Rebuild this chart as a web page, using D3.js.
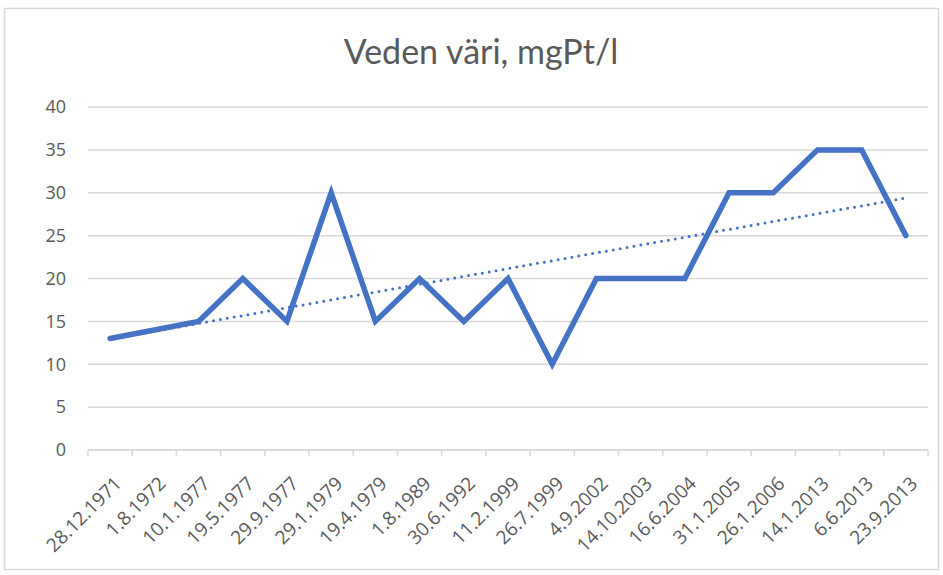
<!DOCTYPE html>
<html>
<head>
<meta charset="utf-8">
<script src="https://cdn.jsdelivr.net/npm/d3@7"></script>
<style>
  body { margin: 0; background: #fff; }
  svg text { font-family: "Open Sans", sans-serif; fill: #595959; }
</style>
</head>
<body>
<div id="chart"></div>
<script>
var dates = ["28.12.1971", "1.8.1972", "10.1.1977", "19.5.1977", "29.9.1977", "29.1.1979",
    "19.4.1979", "1.8.1989", "30.6.1992", "11.2.1999", "26.7.1999", "4.9.2002",
    "14.10.2003", "16.6.2004", "31.1.2005", "26.1.2006", "14.1.2013", "6.6.2013", "23.9.2013"]
var colour = [13, 14, 15, 20, 15, 30, 15, 20, 15, 20, 10, 20, 20, 20, 30, 30, 35, 35, 25]
var yTicks = [0, 5, 10, 15, 20, 25, 30, 35, 40]

var width = 943, height = 575
var margin = {left: 88, right: 15, top: 107, bottom: 125}

var svg = d3.select("#chart")
    .append("svg")
    .attr("width", width)
    .attr("height", height)

// chart frame
svg.append("rect")
    .attr("x", 4.5).attr("y", 8.5)
    .attr("width", 934).attr("height", 561)
    .attr("fill", "none")
    .attr("stroke", "#d9d9d9")
    .attr("stroke-width", 1.5)

svg.append("text")
    .attr("x", 481).attr("y", 64)
    .attr("text-anchor", "middle")
    .style("font-family", "Lato, sans-serif")
    .style("font-size", "34px")
    .text("Veden väri, mgPt/l")

var x = d3.scaleBand()
    .domain(dates)
    .range([margin.left, width - margin.right])

var y = d3.scaleLinear()
    .domain([0, 40])
    .range([height - margin.bottom, margin.top])

// gridlines
svg.append("g")
    .selectAll("line")
    .data(yTicks)
    .enter()
    .append("line")
    .attr("x1", margin.left)
    .attr("x2", width - margin.right)
    .attr("y1", (d) => y(d))
    .attr("y2", (d) => y(d))
    .attr("stroke", "#d9d9d9")
    .attr("stroke-width", 1.5)

var yAxis = svg.append("g")
    .attr("transform", `translate(${margin.left},0)`)
    .call(d3.axisLeft(y).tickValues(yTicks).tickSize(0).tickPadding(22))
yAxis.select(".domain").remove()
yAxis.selectAll("text")
    .style("font-family", "'Open Sans', sans-serif")
    .style("font-size", "18px")
    .attr("fill", "#595959")

// x axis with ticks at category boundaries
var xAxis = svg.append("g")
    .attr("transform", `translate(0,${y(0)})`)
xAxis.append("line")
    .attr("x1", margin.left).attr("x2", width - margin.right)
    .attr("stroke", "#d9d9d9").attr("stroke-width", 1.5)
xAxis.selectAll("line.tick")
    .data(d3.range(dates.length + 1))
    .enter()
    .append("line")
    .attr("class", "tick")
    .attr("x1", (i) => margin.left + i * x.step())
    .attr("x2", (i) => margin.left + i * x.step())
    .attr("y1", 0).attr("y2", 6)
    .attr("stroke", "#d9d9d9").attr("stroke-width", 1.5)
xAxis.selectAll("text")
    .data(dates)
    .enter()
    .append("text")
    .attr("transform", (d) => `translate(${x(d) + x.bandwidth() / 2 + 8},${30}) rotate(-45)`)
    .attr("text-anchor", "end")
    .attr("dy", "0.35em")
    .style("font-size", "19px")
    .text((d) => d)

var cx = (i) => x(dates[i]) + x.bandwidth() / 2

// linear trendline
var n = colour.length
var mx = d3.mean(d3.range(1, n + 1)), my = d3.mean(colour)
var sxy = d3.sum(colour, (v, i) => (i + 1 - mx) * (v - my))
var sxx = d3.sum(d3.range(1, n + 1), (k) => (k - mx) * (k - mx))
var slope = sxy / sxx, icpt = my - slope * mx

svg.append("line")
    .attr("x1", cx(0)).attr("y1", y(icpt + slope * 1))
    .attr("x2", cx(n - 1)).attr("y2", y(icpt + slope * n))
    .attr("stroke", "#4472C4")
    .attr("stroke-width", 3)
    .attr("stroke-linecap", "round")
    .attr("stroke-dasharray", "0 7")

svg.append("path")
    .datum(colour)
    .attr("fill", "none")
    .attr("stroke", "#4472C4")
    .attr("stroke-width", 5.5)
    .attr("stroke-linejoin", "miter")
    .attr("stroke-linecap", "round")
    .attr("d", d3.line().x((d, i) => cx(i)).y((d) => y(d)))
</script>
</body>
</html>
